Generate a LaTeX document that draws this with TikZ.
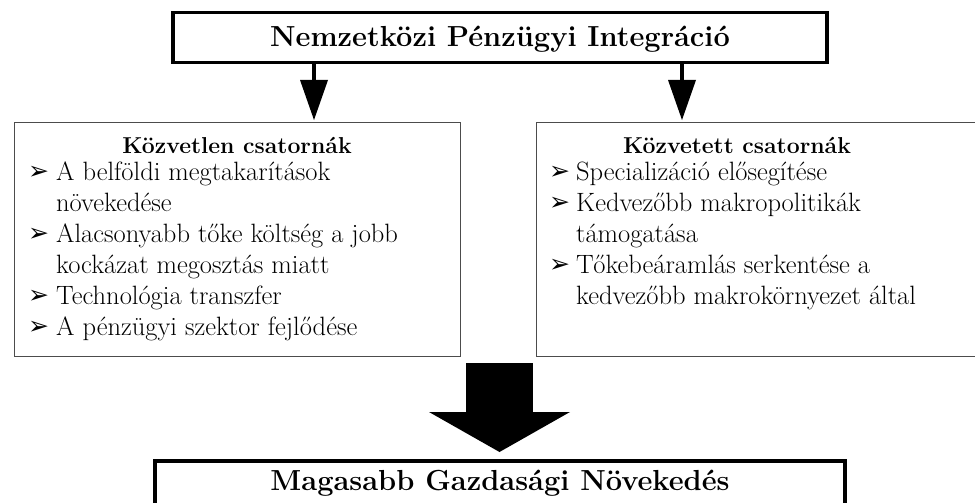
\documentclass[tikz,border=0pt]{standalone}
\usepackage{fontspec}
\newfontfamily\dejavu{DejaVu Sans}
\usetikzlibrary{calc}
\tikzset{
  framebox/.style={draw=black, line width=3.5pt, inner sep=0pt},
  listbox/.style={draw=black!70, line width=0.9pt, inner sep=0pt},
  titletext/.style={font=\fontsize{29}{33}\selectfont\bfseries, inner sep=0pt, anchor=base},
  headtext/.style={font=\fontsize{23}{27}\selectfont\bfseries, inner sep=0pt, anchor=base},
  bodytext/.style={font=\fontsize{26.5}{31}\selectfont, inner sep=0pt, anchor=base west},
  arrowfill/.style={fill=black},
}
\newcommand{\blt}[1]{\makebox[#1][l]{\raisebox{0.5pt}{\dejavu\fontsize{25}{25}\selectfont ➢}}}
\begin{document}
\begin{tikzpicture}[x=1pt,y=1pt]
\useasboundingbox (0,0) rectangle (975,-503);
\clip (0,0) rectangle (975,-503);
\fill[white] (0,0) rectangle (975,-503);

% top box
\node[framebox, minimum width=654pt, minimum height=50pt] (top) at (500,-37.5) {};
\node[titletext] (toptitle) at (500,-47) {Nemzetközi Pénzügyi Integráció};

% list boxes
\node[listbox, minimum width=446pt, minimum height=234pt, anchor=north west] (lbox) at (14,-122) {};
\node[listbox, minimum width=520pt, minimum height=234pt, anchor=north west] (rbox) at (536,-122) {};

\node[headtext] (lhead) at (237,-153) {Közvetlen csatornák};
\node[headtext] (rhead) at (737,-153) {Közvetett csatornák};

\node[bodytext] (llist) at (28,-180) {\begin{tabular}[t]{@{}l@{}}
\blt{28pt}A belföldi megtakarítások\\
\hspace*{28pt}növekedése\\
\blt{28pt}Alacsonyabb tőke költség a jobb\\
\hspace*{28pt}kockázat megosztás miatt\\
\blt{28pt}Technológia transzfer\\
\blt{28pt}A pénzügyi szektor fejlődése
\end{tabular}};

\node[bodytext] (rlist) at (549,-180) {\begin{tabular}[t]{@{}l@{}}
\blt{27pt}Specializáció elősegítése\\
\blt{27pt}Kedvezőbb makropolitikák\\
\hspace*{27pt}támogatása\\
\blt{27pt}Tőkebeáramlás serkentése a\\
\hspace*{27pt}kedvezőbb makrokörnyezet által
\end{tabular}};

% small arrows
\coordinate (la) at (314,-80);
\coordinate (ra) at (682,-80);
\fill[arrowfill] ([xshift=-1.6pt]la |- top.south) rectangle ([xshift=1.6pt,yshift=-2pt]la);
\fill[arrowfill] ([xshift=-14pt]la) -- ([xshift=14pt]la) -- ([yshift=2pt]la |- lbox.north) -- cycle;
\fill[arrowfill] ([xshift=-1.6pt]ra |- top.south) rectangle ([xshift=1.6pt,yshift=-2pt]ra);
\fill[arrowfill] ([xshift=-14pt]ra) -- ([xshift=14pt]ra) -- ([yshift=2pt]ra |- rbox.north) -- cycle;

% bottom box
\node[framebox, minimum width=690pt, minimum height=100pt, anchor=north] (bot) at (500,-459) {};
\node[titletext] (bottitle) at (500,-490) {Magasabb Gazdasági Növekedés};

% big arrow
\coordinate (ba) at (499.5,-412);
\fill[arrowfill] ([xshift=-33.5pt,yshift=49pt]ba) rectangle ([xshift=33.5pt,yshift=-1pt]ba);
\fill[arrowfill] ([xshift=-70.5pt]ba) -- ([xshift=70.5pt]ba) -- ([yshift=7pt]ba |- bot.north) -- cycle;
\end{tikzpicture}
\end{document}
